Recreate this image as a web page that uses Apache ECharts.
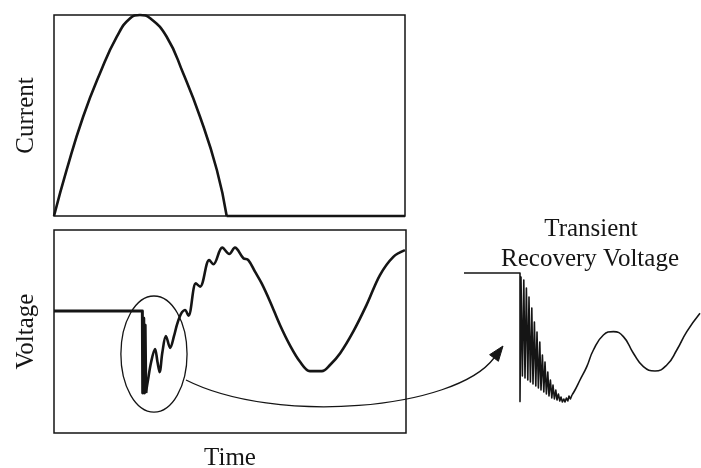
<!DOCTYPE html>
<html><head><meta charset="utf-8">
<script src="https://cdn.jsdelivr.net/npm/echarts@6/dist/echarts.min.js"></script>
<style>html,body{margin:0;padding:0;background:#fff}#c{width:701px;height:468px}</style>
</head><body><div id="c"></div>
<script>
// Panel labels
const panelNames = ['Current', 'Voltage'];
const timeLabel = 'Time';
const insetTitle = ['Transient', 'Recovery Voltage'];

// Current (normalized, % of peak) vs time (% of window): half-wave, then zero after interruption
const currentT = [0, 3.6, 8.3, 13.1, 17.9, 21.7, 24.5, 27.4, 32.1, 36.8, 41.6, 46.4, 49.2];
const currentV = [0, 22.9, 49.4, 71, 89.2, 98.4, 100, 98.4, 89.2, 71, 49.4, 22.9, 0];
const currentZeroT = [49.2, 100];
const currentZeroV = [0, 0];

// Voltage across the breaker vs time (% of window)
const voltageStepT = [0, 25.1, 25.2, 25.5, 25.7, 25.9, 26.1];
const voltageStepV = [60.1, 60.1, 19.7, 56.7, 19.7, 53.2, 19.7];
const voltageT = [26.1, 26.7, 27.6, 28.7, 29.4, 30, 30.8, 31.8, 33, 34.1, 34.9, 35.8, 36.4, 37.2, 38.2, 40.3, 41.5, 44.1, 45.3, 47.8, 49.8, 51.4, 53.8, 55.2, 57.1, 59, 61.4, 64.2, 67, 69.9, 72.7, 76.1, 78.4, 81.3, 85, 88.8, 92.6, 96.4, 99.7];
const voltageV = [19.7, 26.1, 35, 41.4, 35, 30, 39.9, 47.8, 41.9, 47.8, 53.2, 57.6, 59.6, 60.6, 57.8, 73.7, 72.1, 85.2, 83.1, 91.3, 88.2, 91.3, 86.1, 85.2, 79.5, 73.7, 64.7, 53.2, 43.3, 35.1, 30.5, 30.5, 33.5, 39.3, 49.9, 63.1, 77.8, 86.8, 90.1];

// Zoomed transient recovery voltage: step + high-frequency oscillation
const trvFastT = [2, 30, 30, 30.5, 31.2, 31.9, 32.5, 33.2, 33.9, 34.5, 35.2, 35.9, 36.5, 37.2, 37.9, 38.5, 39.2, 39.9, 40.5, 41.2, 41.9, 42.5, 43.2, 43.9, 44.5, 45.2, 45.9, 46.5, 47.2, 47.9, 48.5, 49.2, 49.9, 50.5, 51.2, 51.9, 52.5, 53.2, 53.9, 54.5, 55.2, 56];
const trvFastV = [68.5, 68.5, 4.2, 66.5, 17, 65, 16, 61, 15, 56.5, 14, 51, 13, 44, 12, 39, 11, 34, 10, 27.5, 9, 24, 8, 19, 7, 15, 6, 12.5, 5.5, 10, 5, 8, 4.5, 6.5, 4, 5.5, 4, 6, 4.5, 7, 5.5, 7.5];
// Zoomed transient recovery voltage: slow oscillation
const trvSlowT = [56, 57.5, 60, 63.4, 66.7, 71.7, 76.7, 81.7, 86.7, 91.7, 97.5, 103.4, 108.4, 113.4, 120];
const trvSlowV = [7.5, 10, 15, 21.7, 30, 37.5, 39.2, 36.7, 28.4, 21.7, 19.5, 22.5, 30, 39.2, 48.4];

// Annotation anchors (data coordinates)
const ellipseCenter = [28.4, 38.9];   // voltage panel
const ellipseRadii = [9.4, 28.6];     // voltage panel units
const connStart = [37.5, 26.1];       // voltage panel
const connCp1 = [62.8, 3.9];          // voltage panel
const connCp2 = [113.9, 11.3];        // voltage panel
const connEnd = [17, 26];             // inset
const arrowTip = [21.5, 32];          // inset
const titleAnchors = [[65.5, 90.5], [65, 75.5]]; // inset

const pair = (xs, ys) => xs.map((x, i) => [x, ys[i]]);
const ink = '#151515';
const serif = 'Liberation Serif';

const chart = echarts.init(document.getElementById('c'));
const hiddenAxis = {
  axisLine: { show: false }, axisTick: { show: false },
  axisLabel: { show: false }, splitLine: { show: false }
};
const nameStyle = { fontFamily: serif, fontSize: 25, color: ink };
const lineSeries = (xi, xs, ys, width, smooth) => ({
  type: 'line', xAxisIndex: xi, yAxisIndex: xi, data: pair(xs, ys), smooth: smooth || false,
  symbol: 'none', clip: false, lineStyle: { color: ink, width: width, join: 'round' }
});
chart.setOption({
  animation: false,
  grid: [
    { left: 54, top: 15, width: 351, height: 201, show: true, borderColor: ink, borderWidth: 1.5, backgroundColor: 'transparent', outerBoundsMode: 'none', containLabel: false },
    { left: 54, top: 230, width: 352, height: 203, show: true, borderColor: ink, borderWidth: 1.5, backgroundColor: 'transparent', outerBoundsMode: 'none', containLabel: false },
    { left: 460, top: 260, width: 240, height: 150, show: false, outerBoundsMode: 'none', containLabel: false }
  ],
  xAxis: [
    Object.assign({ type: 'value', gridIndex: 0, min: 0, max: 100 }, hiddenAxis),
    Object.assign({ type: 'value', gridIndex: 1, min: 0, max: 100, name: timeLabel, nameLocation: 'middle', nameGap: 13, nameTextStyle: nameStyle }, hiddenAxis),
    Object.assign({ type: 'value', gridIndex: 2, min: 0, max: 120 }, hiddenAxis)
  ],
  yAxis: [
    Object.assign({ type: 'value', gridIndex: 0, min: 0, max: 100, name: panelNames[0], nameLocation: 'middle', nameGap: 15, nameTextStyle: nameStyle }, hiddenAxis),
    Object.assign({ type: 'value', gridIndex: 1, min: 0, max: 100, name: panelNames[1], nameLocation: 'middle', nameGap: 15, nameTextStyle: nameStyle }, hiddenAxis),
    Object.assign({ type: 'value', gridIndex: 2, min: 0, max: 75 }, hiddenAxis)
  ],
  series: [
    lineSeries(0, currentT, currentV, 2.6, 0.5),
    lineSeries(0, currentZeroT, currentZeroV, 2.6),
    lineSeries(1, voltageStepT, voltageStepV, 3),
    lineSeries(1, voltageT, voltageV, 2.6, 0.35),
    lineSeries(2, trvFastT, trvFastV, 1.6),
    lineSeries(2, trvSlowT, trvSlowV, 1.6, 0.5)
  ]
});

const pv = p => chart.convertToPixel({ gridIndex: 1 }, p);
const pi = p => chart.convertToPixel({ gridIndex: 2 }, p);
const c = pv(ellipseCenter);
const rxPt = pv([ellipseCenter[0] + ellipseRadii[0], ellipseCenter[1]]);
const ryPt = pv([ellipseCenter[0], ellipseCenter[1] + ellipseRadii[1]]);
const s = pv(connStart), c1 = pv(connCp1), c2 = pv(connCp2), e = pi(connEnd), tip = pi(arrowTip);
const dx = tip[0] - e[0], dy = tip[1] - e[1];
const len = Math.hypot(dx, dy), ux = dx / len, uy = dy / len;
const hw = 5.5;
const b1 = [e[0] - uy * hw, e[1] + ux * hw], b2 = [e[0] + uy * hw, e[1] - ux * hw];
const t1 = pi(titleAnchors[0]), t2 = pi(titleAnchors[1]);

chart.setOption({
  graphic: [
    { type: 'ellipse', shape: { cx: c[0], cy: c[1], rx: Math.abs(rxPt[0] - c[0]), ry: Math.abs(ryPt[1] - c[1]) },
      style: { fill: 'none', stroke: ink, lineWidth: 1.3 } },
    { type: 'bezierCurve', shape: { x1: s[0], y1: s[1], cpx1: c1[0], cpy1: c1[1], cpx2: c2[0], cpy2: c2[1], x2: e[0], y2: e[1] },
      style: { fill: 'none', stroke: ink, lineWidth: 1.3 } },
    { type: 'polygon', shape: { points: [tip, b1, b2] }, style: { fill: ink, stroke: ink } },
    { type: 'text', x: t1[0], y: t1[1], style: { text: insetTitle[0], font: '25px "Liberation Serif"', fill: ink, align: 'center', verticalAlign: 'middle' } },
    { type: 'text', x: t2[0], y: t2[1], style: { text: insetTitle[1], font: '25px "Liberation Serif"', fill: ink, align: 'center', verticalAlign: 'middle' } }
  ]
});
</script>
</body></html>
